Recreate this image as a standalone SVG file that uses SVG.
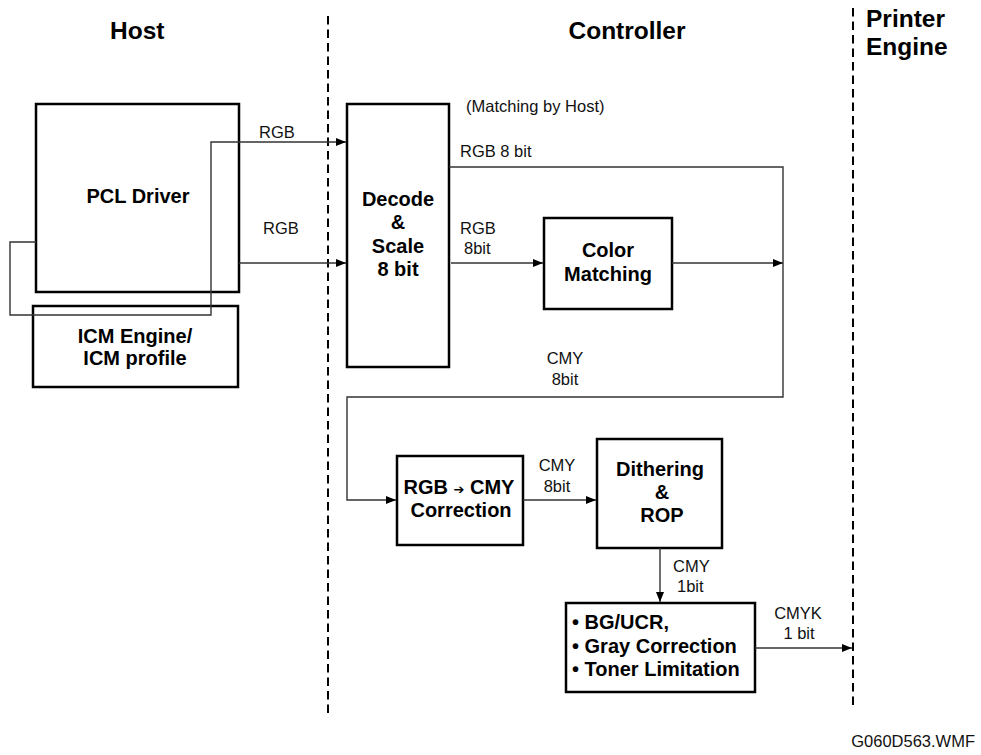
<svg xmlns="http://www.w3.org/2000/svg" width="981" height="755" viewBox="0 0 981 755">
<style>
.box{fill:#fff;stroke:#000;stroke-width:2.5}
.bt{font-family:"Liberation Sans",Arial,sans-serif;font-weight:bold;font-size:20px;fill:#000;text-anchor:middle}
.bl{font-family:"Liberation Sans",Arial,sans-serif;font-weight:bold;font-size:20px;fill:#000;text-anchor:start}
.lb{font-family:"Liberation Sans",Arial,sans-serif;font-size:16.5px;fill:#111}
.hd{font-family:"Liberation Sans",Arial,sans-serif;font-weight:bold;font-size:24.5px;fill:#000}
.cn{fill:none;stroke:#333;stroke-width:1.4}
.dash{stroke:#000;stroke-width:2;stroke-dasharray:8.5 5}
</style>
<defs>
<marker id="ah" markerUnits="userSpaceOnUse" markerWidth="11" markerHeight="8" refX="10" refY="4" orient="auto">
<path d="M0,0 L10,4 L0,8 z" fill="#000"/>
</marker>
</defs>
<rect width="981" height="755" fill="#fff"/>
<g id="dividers">
<line class="dash" x1="328" y1="16" x2="328" y2="717"/>
<line class="dash" x1="853" y1="8" x2="853" y2="706"/>
</g>
<g id="headers">
<text class="hd" x="110" y="39">Host</text>
<text class="hd" x="627" y="39" text-anchor="middle">Controller</text>
<text class="hd" x="866" y="27">Printer</text>
<text class="hd" x="866" y="55">Engine</text>
</g>
<g id="pcl-driver">
<rect class="box" x="36" y="104" width="203" height="188"/>
<text class="bt" x="138" y="203">PCL Driver</text>
</g>
<g id="icm-engine">
<rect class="box" x="33" y="306" width="205" height="81"/>
<text class="bt" x="135" y="343">ICM Engine/</text>
<text class="bt" x="135" y="365">ICM profile</text>
</g>
<g id="decode">
<rect class="box" x="347" y="104" width="102" height="263"/>
<text class="bt" x="398" y="206">Decode</text>
<text class="bt" x="398" y="229">&amp;</text>
<text class="bt" x="398" y="253">Scale</text>
<text class="bt" x="398" y="276">8 bit</text>
</g>
<g id="color-matching">
<rect class="box" x="544" y="218" width="128" height="91"/>
<text class="bt" x="608" y="257">Color</text>
<text class="bt" x="608" y="281">Matching</text>
</g>
<g id="rgb-cmy">
<rect class="box" x="397" y="456" width="126" height="89"/>
<text class="bt" x="459" y="494">RGB <tspan font-family="DejaVu Sans,sans-serif" font-size="13">➔</tspan> CMY</text>
<text class="bt" x="461" y="517">Correction</text>
</g>
<g id="dithering">
<rect class="box" x="597" y="439" width="125" height="109"/>
<text class="bt" x="660" y="476">Dithering</text>
<text class="bt" x="662" y="499">&amp;</text>
<text class="bt" x="662" y="522">ROP</text>
</g>
<g id="bg-ucr">
<rect class="box" x="566" y="603" width="189" height="89"/>
<text class="bl" x="572" y="629">• BG/UCR,</text>
<text class="bl" x="572" y="653">• Gray Correction</text>
<text class="bl" x="572" y="676">• Toner Limitation</text>
</g>
<g id="connectors">
<path class="cn" d="M36,242 H10 V315 H211 V142 H346" marker-end="url(#ah)"/>
<path class="cn" d="M239,263 H346" marker-end="url(#ah)"/>
<path class="cn" d="M449,167 H783 V397 H347 V500 H396" marker-end="url(#ah)"/>
<path class="cn" d="M451,263 H543" marker-end="url(#ah)"/>
<path class="cn" d="M672,263 H783" marker-end="url(#ah)"/>
<path class="cn" d="M523,500 H596" marker-end="url(#ah)"/>
<path class="cn" d="M660,548 V602" marker-end="url(#ah)"/>
<path class="cn" d="M755,648 H852" marker-end="url(#ah)"/>
</g>
<g id="labels">
<text class="lb" x="277" y="138" text-anchor="middle">RGB</text>
<text class="lb" x="281" y="234" text-anchor="middle">RGB</text>
<text class="lb" x="466" y="112">(Matching by Host)</text>
<text class="lb" x="460" y="157">RGB 8 bit</text>
<text class="lb" x="460" y="234">RGB</text>
<text class="lb" x="464" y="254">8bit</text>
<text class="lb" x="565" y="364" text-anchor="middle">CMY</text>
<text class="lb" x="565" y="385" text-anchor="middle">8bit</text>
<text class="lb" x="557" y="471" text-anchor="middle">CMY</text>
<text class="lb" x="557" y="492" text-anchor="middle">8bit</text>
<text class="lb" x="673" y="572">CMY</text>
<text class="lb" x="677" y="592">1bit</text>
<text class="lb" x="798" y="619" text-anchor="middle">CMYK</text>
<text class="lb" x="799" y="639" text-anchor="middle">1 bit</text>
<text class="lb" x="975" y="747" text-anchor="end" font-size="15.5">G060D563.WMF</text>
</g>
</svg>
